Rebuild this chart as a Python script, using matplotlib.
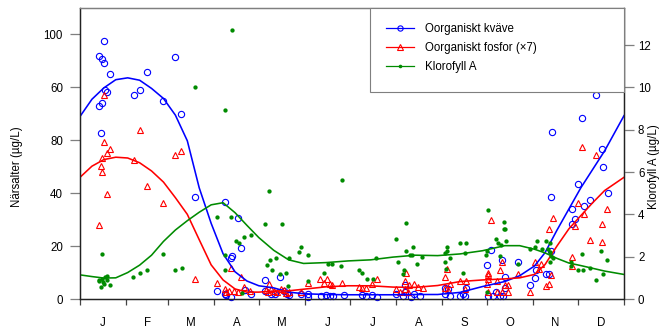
import matplotlib
matplotlib.use('Agg')
import matplotlib.pyplot as plt
from matplotlib.lines import Line2D
from matplotlib.patches import Rectangle

plt.rcParams['font.family'] = ['Liberation Sans', 'DejaVu Sans']
plt.rcParams['font.size'] = 8.3

# ---------------- data ----------------
month_labels = ['J', 'F', 'M', 'A', 'M', 'J', 'J', 'A', 'S', 'O', 'N', 'D']
month_starts = [0, 31, 59, 90, 120, 151, 181, 212, 243, 273, 304, 334, 365]
left_ticks = [0, 20, 40, 60, 80, 100]
left_tick_labels = ['0', '20', '40', '80', '60', '100']
right_ticks = [0, 2, 4, 6, 8, 10, 12]

# Oorganiskt kväve (left axis)
n_days = [16, 13, 15, 16, 20, 17, 18, 15, 13, 14,
          36, 40, 45, 56, 64, 68, 77,
          97, 106, 102, 101, 108, 124, 134,
          92, 97, 98, 101, 111, 115, 124, 128, 131, 137, 139, 140,
          148, 153, 153, 162, 165, 168, 170, 177, 189, 192, 196, 199,
          212, 217, 218, 218, 222, 224, 228,
          245, 245, 247, 248, 255, 257, 258, 259,
          273, 274, 276, 277, 279, 282, 284, 285, 285, 283, 294,
          302, 306, 305, 313, 315, 316, 316, 317,
          330, 332, 330, 334, 337, 338, 342, 346, 350, 351, 354]
n_vals = [97.7, 91.7, 90.8, 89.3, 85.0, 79.1, 78.4, 74.0, 73.1, 62.7,
          77.0, 79.1, 85.9, 74.9, 91.3, 70.1, 38.6,
          36.7, 30.8, 16.4, 15.5, 19.1, 7.1, 8.3,
          2.9, 1.8, 1.4, 0.8, 3.3, 1.8, 3.0, 1.8, 1.8, 3.0, 1.8, 1.4,
          1.8, 1.8, 0.8, 1.1, 1.4, 1.1, 1.1, 1.7, 1.4, 1.1, 1.7, 0.8,
          1.8, 1.1, 5.2, 2.7, 0.8, 1.8, 1.1,
          4.3, 1.8, 3.9, 1.1, 1.1, 1.8, 1.1, 4.3,
          13.0, 1.1, 18.6, 1.1, 2.7, 1.1, 1.1, 4.3, 8.3, 14.7, 14.0,
          5.2, 11.1, 8.1, 9.6, 9.4, 38.4, 18.2, 63.3,
          34.0, 30.4, 28.3, 43.3, 68.4, 35.1, 37.4, 77.1, 56.6, 49.8, 40.0]

# Oorganiskt fosfor x7 (left axis)
p_days = [16, 16, 20, 18, 15, 14, 15, 18, 13,
          40, 36, 45, 56, 64, 68, 77,
          92, 101, 108, 97.5, 98, 100, 103, 106, 110, 114,
          125, 126, 127, 128, 130, 132, 135, 137, 138, 140,
          148, 153, 161, 163.5, 166, 168, 169, 176,
          187, 189, 192, 196, 199,
          212, 215, 218, 218.5, 218, 220, 221, 224, 227, 230,
          245, 246, 248, 245, 247, 255, 259, 258,
          276, 274, 274, 273, 282, 283, 285, 287, 294, 280, 283, 280, 287, 274, 274,
          302, 305, 308, 309, 313, 315, 316, 315, 317.5, 330, 330, 332, 334, 338, 336.5,
          342, 346.5, 350, 350.5, 353.5]
p_vals = [77.2, 59.5, 56.7, 55.3, 53.2, 50.3, 48.1, 39.8, 27.9,
          63.9, 52.5, 42.7, 36.4, 54.4, 56.1, 7.6,
          6.2, 11.7, 8.3, 3.9, 2.7, 3.0, 3.0, 2.7, 4.7, 3.0,
          3.3, 2.7, 5.6, 3.6, 3.0, 2.7, 3.9, 3.3, 2.3, 2.7,
          2.7, 6.2, 7.7, 6.1, 7.5, 5.6, 5.2, 6.0,
          4.5, 4.0, 4.3, 5.5, 7.6,
          3.6, 2.7, 6.8, 9.7, 3.6, 2.7, 5.2, 5.8, 4.5, 4.3,
          8.3, 11.5, 5.8, 4.3, 3.3, 6.7, 6.8, 3.9,
          29.8, 10.0, 7.7, 5.8, 10.9, 13.8, 5.2, 5.2, 9.6, 6.7, 2.7, 2.7, 2.7, 2.7, 9.0,
          2.7, 14.0, 11.5, 13.1, 5.0, 5.6, 9.0, 26.3, 30.6, 15.9, 12.5, 27.5, 36.1, 32.0, 57.4,
          22.2, 54.4, 21.5, 28.3, 34.1]

# Klorofyll A (right axis)
c_days = [15, 15, 13, 17, 18, 15.5, 14, 20, 12.5, 16, 18,
          35.6, 40, 45, 56, 64, 68.4,
          77, 97, 102, 92, 101, 97.5, 97.5, 105, 106.5, 110, 114.5, 108.5,
          127, 124, 135.5, 127.5, 125.3, 131.3, 129.1, 134.2, 138.2, 139.5, 140.2,
          148, 147, 153.3, 153.3, 163.5, 166.2, 169.3, 175, 176,
          187, 189, 192.5, 196.5, 198.5,
          212.3, 218.4, 218.4, 223.6, 221.5, 223, 229.4, 226.4, 217.4, 216.5, 213.4,
          244.7, 246, 246.4, 248.5, 245.2, 245.3, 254.8, 259.2, 258.5, 257.3,
          273.8, 284.2, 284.6, 285, 279.3, 280.6, 282.7, 285.6, 273.3, 272.6, 281.6, 273.3, 294.2,
          306.5, 313, 315.5, 302, 305, 310, 314.2, 315.3, 316.3, 317.5, 315.1,
          336.5, 349.9, 353.3, 329.7, 329.7, 334.2, 337.6, 342.3, 350.8, 346.1]
c_vals = [2.14, 0.96, 0.91, 1.04, 1.07, 0.80, 0.56, 0.64, 0.85, 0.72, 0.88,
          1.04, 1.24, 1.35, 2.14, 1.35, 1.46,
          10.0, 8.93, 12.72, 3.86, 3.86, 2.06, 1.38, 2.73, 2.65, 2.95, 3.04, 0.29,
          5.12, 3.55, 3.55, 1.85, 1.63, 1.95, 1.35, 1.16, 1.22, 0.62, 1.95,
          2.45, 2.21, 2.06, 0.85, 1.23, 1.67, 1.67, 1.55, 5.63,
          1.39, 1.25, 0.96, 0.96, 1.96,
          2.84, 3.58, 2.26, 2.45, 2.10, 2.06, 1.97, 1.67, 1.39, 1.16, 1.77,
          1.77, 2.45, 2.26, 1.95, 2.16, 1.43, 2.65, 2.65, 2.16, 1.24,
          4.22, 3.64, 3.30, 3.30, 2.84, 2.64, 2.53, 2.73, 2.29, 2.06, 2.02, 0.33, 1.67,
          2.73, 2.73, 2.66, 2.37, 2.44, 2.37, 2.37, 2.21, 2.05, 1.95, 1.74,
          2.14, 2.25, 1.85, 1.77, 1.55, 1.38, 1.38, 1.47, 1.18, 0.88]

# smoothed seasonal curves
curve_days = [0, 8, 16, 24, 32, 40, 48, 56, 64, 72, 80, 88, 96, 104, 112, 120,
              130, 140, 150, 165, 180, 195, 210, 225, 240, 255, 270, 285, 295,
              305, 312, 320, 328, 336, 344, 352, 365]
n_curve = [69.0, 75.5, 79.8, 82.9, 83.6, 82.7, 79.6, 75.8, 69.5, 59.8, 42.0, 28.6,
           17.1, 10.3, 6.8, 5.0, 4.2, 2.6, 2.0, 1.7, 1.6, 1.6, 1.6, 1.7, 1.7,
           2.5, 4.7, 6.6, 8.8, 12.5, 17.5, 26.0, 34.0, 42.0, 49.0, 56.0, 69.3]
p_curve = [46.0, 50.2, 52.7, 53.6, 53.3, 51.5, 48.4, 44.2, 38.3, 32.0, 22.4, 12.9,
           7.2, 3.8, 2.6, 2.6, 3.0, 3.1, 3.7, 4.6, 5.0, 5.0, 4.5, 4.4, 5.1,
           6.6, 7.2, 7.6, 8.0, 9.3, 13.0, 20.0, 26.5, 31.5, 36.4, 41.0, 46.0]
c_curve = [1.14, 1.06, 0.99, 1.00, 1.25, 1.60, 2.07, 2.72, 3.26, 3.70, 4.10, 4.45,
           4.55, 4.08, 3.48, 2.90, 2.30, 1.85, 1.68, 1.72, 1.80, 1.85, 1.98, 2.07,
           2.05, 2.13, 2.28, 2.52, 2.52, 2.35, 2.18, 1.92, 1.70, 1.58, 1.45, 1.32, 1.16]

labels = ['Oorganiskt kväve', 'Oorganiskt fosfor (×7)', 'Klorofyll A']

# ---------------- styling ----------------
BLUE = '#0000FF'
RED = '#FF0000'
GREEN = '#008B00'
GRAY = '#7f7f7f'
PX = 0.72  # points per pixel at 100 dpi

W, H = 662, 329
fig = plt.figure(figsize=(W / 100, H / 100), dpi=100)
L, R, T, B = 80, 624, 8, 299
ax = fig.add_axes([L / W, 1 - B / H, (R - L) / W, (B - T) / H])
ax2 = ax.twinx()

ax.plot(n_days, n_vals, linestyle='none', marker='o', mfc='none', mec=BLUE,
        ms=4.5, mew=0.8, clip_on=False)
ax.plot(p_days, p_vals, linestyle='none', marker='^', mfc='none', mec=RED,
        ms=5.0, mew=0.8, clip_on=False)
ax.plot(curve_days, n_curve, color=BLUE, lw=1.15)
ax.plot(curve_days, p_curve, color=RED, lw=1.15)

ax2.plot(c_days, c_vals, linestyle='none', marker='o', color=GREEN, ms=3.1, mew=0)
ax2.plot(curve_days, c_curve, color=GREEN, lw=1.15)

ax.set_xlim(0, 365)
ax.set_ylim(0, 110)
ax2.set_ylim(0, 110 / 8)

# x axis: ticks at month boundaries, labels at month centres
ax.set_xticks(month_starts)
ax.set_xticklabels([''] * len(month_starts))
mids = [(month_starts[i] + month_starts[i + 1]) / 2 for i in range(12)]
ax.set_xticks(mids, minor=True)
ax.set_xticklabels(month_labels, minor=True)
ax.tick_params(axis='x', which='major', length=6 * PX, width=0.9, color='#444444', direction='out')
ax.tick_params(axis='x', which='minor', length=0, width=0, pad=18 * PX, labelsize=8.3)

ax.set_yticks(left_ticks)
ax.set_yticklabels(left_tick_labels)
ax.tick_params(axis='y', length=10 * PX, width=0.9, color=GRAY, pad=7 * PX, labelsize=8.3)
ax2.set_yticks(right_ticks)
ax2.tick_params(axis='y', length=10 * PX, width=0.9, color=GRAY, pad=4 * PX, labelsize=8.3)

for a in (ax, ax2):
    a.spines['top'].set_color(GRAY)
    a.spines['top'].set_linewidth(0.9)
    for s in ('left', 'right', 'bottom'):
        a.spines[s].set_color('#222222')
        a.spines[s].set_linewidth(0.9)

ax.set_ylabel('Närsalter (µg/L)', fontsize=8.3)
ax.yaxis.set_label_coords((23 - L) / (R - L), (B - 167) / (B - T))
ax2.set_ylabel('Klorofyll A (µg/L)', fontsize=8.3)
ax2.yaxis.set_label_coords((648 - L) / (R - L), (B - 167) / (B - T))

# legend with frame
x0 = (370 - L) / (R - L)
y0 = (B - 92) / (B - T)
ax2.add_patch(Rectangle((x0, y0), 1 - x0, 1 - y0, transform=ax2.transAxes,
                        facecolor='white', edgecolor=GRAY, lw=0.8, zorder=10,
                        clip_on=False))
handles = [
    Line2D([], [], color=BLUE, lw=0.9, marker='o', mfc='none', ms=3.8, mew=0.8),
    Line2D([], [], color=RED, lw=0.9, marker='^', mfc='none', ms=4.2, mew=0.8),
    Line2D([], [], color=GREEN, lw=0.9, marker='o', ms=2.6, mew=0),
]
leg = ax2.legend(handles, labels, loc='upper left',
                 bbox_to_anchor=((386 - L) / (R - L), (B - 23) / (B - T)),
                 frameon=False, borderpad=0, borderaxespad=0,
                 handlelength=2.4, handletextpad=1.0, labelspacing=0.62,
                 fontsize=8.3)
leg.set_zorder(11)

fig.savefig('out.png', dpi=100)
